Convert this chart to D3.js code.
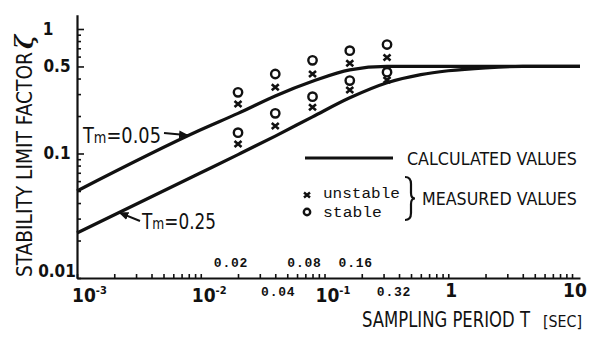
<!DOCTYPE html>
<html>
<head>
<meta charset="utf-8">
<script src="https://cdn.jsdelivr.net/npm/d3@7"></script>
<style>
  body { margin: 0; background: #fff; }
  svg { display: block; }
</style>
</head>
<body>
<svg id="chart" width="589" height="340"></svg>
<script>
// sampling periods of the measured points [sec]
const periods = [0.02, 0.04, 0.08, 0.16, 0.32];

// measured values, Tm = 0.05
const upperStable = [0.31, 0.435, 0.56, 0.67, 0.75];
const upperUnstable = [0.25, 0.34, 0.435, 0.53, 0.59];
// measured values, Tm = 0.25
const lowerStable = [0.147, 0.21, 0.286, 0.385, 0.45];
const lowerUnstable = [0.119, 0.166, 0.235, 0.324, 0.39];

// calculated curves
const curveT = [0.001, 0.01, 0.02, 0.04, 0.08, 0.16, 0.32, 0.6, 1, 2, 4, 11.6];
const upperCurve = [0.05, 0.155, 0.21, 0.29, 0.38, 0.47, 0.5, 0.5, 0.5, 0.5, 0.5, 0.5];
const lowerCurve = [0.023, 0.07, 0.098, 0.138, 0.197, 0.28, 0.37, 0.43, 0.462, 0.488, 0.5, 0.5];

// tick labels
const xPowers = [[0.001, '-3'], [0.01, '-2'], [0.1, '-1']];
const xPlain = [[1, '1'], [10, '10']];
const xSubAbove = ['0.02', '0.08', '0.16'];
const xSubBelow = ['0.04', '0.32'];
const yLabels = ['0.01', '0.1', '0.5', '1'];

const narrow = '"Liberation Sans Narrow", "DejaVu Sans Condensed", sans-serif';
const mono = '"Liberation Mono", "DejaVu Sans Mono", monospace';
const ink = '#111';

const svg = d3.select('#chart');
svg.append('rect').attr('width', 589).attr('height', 340).attr('fill', '#fff');

const x = d3.scaleLog().domain([0.001, 11.6]).range([77, 580]);
const y = d3.scaleLog().domain([0.01, 1.3]).range([278, 14.8]);

// squeeze a text horizontally so it covers `width` pixels
const fit = (sel, tx, ty, width, rot) => {
  const w = sel.node().getComputedTextLength();
  sel.attr('transform', `translate(${tx},${ty})${rot ? ' rotate(' + rot + ')' : ''} scale(${width / w},1)`);
  return sel;
};

const decades = [0.001, 0.01, 0.1, 1];
const xMinor = decades.flatMap(d => d3.range(1, 10).map(k => d * k)).concat([10]);
const yMinor = [0.01, 0.1].flatMap(d => d3.range(1, 10).map(k => +(d * k).toFixed(3))).concat([1]);

// axes
svg.append('g')
  .attr('transform', `translate(0,${y(0.01)})`)
  .call(d3.axisTop(x).tickValues(xMinor).tickSize(4).tickSizeOuter(0).tickFormat(''))
  .call(g => g.select('.domain').attr('stroke-width', 2).attr('stroke', ink))
  .call(g => g.selectAll('.tick line').attr('stroke-width', 1.6).attr('stroke', ink).attr('y2', -4).attr('y1', 1));

svg.append('g')
  .attr('transform', `translate(${x(0.001)},0)`)
  .call(d3.axisRight(y).tickValues(yMinor).tickSize(4).tickSizeOuter(0).tickFormat(''))
  .call(g => g.select('.domain').attr('stroke-width', 2.2).attr('stroke', ink))
  .call(g => g.selectAll('.tick line').attr('stroke-width', 1.6).attr('stroke', ink)
    .attr('x2', d => [0.1, 0.5, 1].includes(d) ? 7 : 4));

// y tick labels
svg.append('g').selectAll('text')
  .data(yLabels)
  .join('text')
  .attr('x', d => d === '1' ? 48 : 57)
  .attr('y', d => y(+d) + (d === '0.01' ? -1 : 6))
  .attr('text-anchor', 'middle')
  .attr('font-family', narrow)
  .attr('font-weight', 'bold')
  .attr('font-size', 17)
  .attr('fill', ink)
  .text(d => d);

// x tick labels
const xl = svg.append('g').attr('font-family', narrow).attr('font-weight', 'bold').attr('fill', ink);
xPowers.forEach(([v, p]) => {
  const t = xl.append('text')
    .attr('x', x(v) - 9 + (v === 0.001 ? 4 : 0))
    .attr('y', 302)
    .attr('font-size', 19);
  t.append('tspan').text('10');
  t.append('tspan').attr('font-size', 11).attr('dy', -8).text(p);
});
xl.selectAll('text.plain')
  .data(xPlain)
  .join('text')
  .attr('class', 'plain')
  .attr('x', d => x(d[0]) + 3)
  .attr('y', 297)
  .attr('text-anchor', 'middle')
  .attr('font-size', 19)
  .text(d => d[1]);

// the hand-lettered period labels sit a little off their ticks
const subShift = { '0.02': -7, '0.08': -8, '0.16': 6, '0.04': 3, '0.32': 7 };
const subLabel = (labels, yy) => svg.append('g').selectAll('text')
  .data(labels)
  .join('text')
  .attr('x', d => x(+d) + subShift[d])
  .attr('y', yy)
  .attr('text-anchor', 'middle')
  .attr('font-family', mono)
  .attr('font-weight', 'bold')
  .attr('font-size', 13)
  .attr('letter-spacing', 0.8)
  .attr('fill', ink)
  .text(d => d);
subLabel(xSubAbove, 267);
subLabel(xSubBelow, 296);

// calculated curves
const line = d3.line()
  .x(d => x(d[0]))
  .y(d => y(d[1]))
  .curve(d3.curveMonotoneX);

[upperCurve, lowerCurve].forEach(c => {
  svg.append('path')
    .datum(curveT.map((t, i) => [t, c[i]]))
    .attr('fill', 'none')
    .attr('stroke', ink)
    .attr('stroke-width', 3.2)
    .attr('stroke-linejoin', 'round')
    .attr('d', line);
});

// measured points
const cross = 'M-3.5,-3L3.5,3M3.5,-3L-3.5,3';
const drawStable = (vals) => svg.append('g').selectAll('circle')
  .data(periods.map((t, i) => [t, vals[i]]))
  .join('circle')
  .attr('cx', d => x(d[0]))
  .attr('cy', d => y(d[1]))
  .attr('r', 4.2)
  .attr('fill', '#fff')
  .attr('stroke', ink)
  .attr('stroke-width', 2.4);
const drawUnstable = (vals) => svg.append('g').selectAll('path')
  .data(periods.map((t, i) => [t, vals[i]]))
  .join('path')
  .attr('transform', d => `translate(${x(d[0])},${y(d[1])})`)
  .attr('d', cross)
  .attr('stroke', ink)
  .attr('stroke-width', 2.6);
drawUnstable(upperUnstable);
drawUnstable(lowerUnstable);
drawStable(upperStable);
drawStable(lowerStable);

// curve labels with arrows
svg.append('defs').append('marker')
  .attr('id', 'head')
  .attr('viewBox', '0 0 10 10')
  .attr('refX', 9).attr('refY', 5)
  .attr('markerWidth', 5).attr('markerHeight', 5)
  .attr('orient', 'auto')
  .append('path').attr('d', 'M0,1L10,5L0,9Z').attr('fill', ink);

const tmLabel = (xx, yy, val, len) => {
  const t = svg.append('text')
    .attr('font-family', narrow)
    .attr('font-size', 22)
    .attr('fill', ink);
  t.append('tspan').text('T');
  t.append('tspan').attr('font-size', 16).text('m');
  t.append('tspan').text('=' + val);
  fit(t, xx, yy, len);
};
tmLabel(83, 143, '0.05', 78);
tmLabel(142, 229, '0.25', 74);

svg.append('line')
  .attr('x1', 164).attr('y1', 133)
  .attr('x2', x(0.0079)).attr('y2', y(0.14))
  .attr('stroke', ink).attr('stroke-width', 2)
  .attr('marker-end', 'url(#head)');
svg.append('line')
  .attr('x1', 140).attr('y1', 221)
  .attr('x2', x(0.0022)).attr('y2', y(0.0335))
  .attr('stroke', ink).attr('stroke-width', 2)
  .attr('marker-end', 'url(#head)');

// axis titles
fit(svg.append('text')
  .attr('font-family', narrow)
  .attr('font-size', 22)
  .attr('fill', ink)
  .text('STABILITY LIMIT FACTOR'), 32, 277, 225, -90);
svg.append('text')
  .attr('transform', 'translate(33,49) rotate(-90)')
  .attr('font-family', '"DejaVu Serif", serif')
  .attr('font-style', 'italic')
  .attr('font-weight', 'bold')
  .attr('font-size', 24)
  .attr('fill', ink)
  .text('ζ');

fit(svg.append('text')
  .attr('font-family', narrow)
  .attr('font-size', 21)
  .attr('fill', ink)
  .text('SAMPLING PERIOD T'), 362, 327, 168);
fit(svg.append('text')
  .attr('font-family', narrow)
  .attr('font-size', 15)
  .attr('fill', ink)
  .text('[SEC]'), 543, 327, 39);

// legend
const lg = svg.append('g');
lg.append('line')
  .attr('x1', 305).attr('x2', 393).attr('y1', 158).attr('y2', 158)
  .attr('stroke', ink).attr('stroke-width', 3.2);
fit(lg.append('text')
  .attr('font-family', narrow).attr('font-size', 17).attr('fill', ink)
  .text('CALCULATED VALUES'), 407, 165, 170);
lg.append('path')
  .attr('transform', 'translate(307,195)')
  .attr('d', 'M-3,-2.5L3,2.5M3,-2.5L-3,2.5')
  .attr('stroke', ink).attr('stroke-width', 2.4);
lg.append('circle')
  .attr('cx', 307).attr('cy', 212).attr('r', 3.2)
  .attr('fill', '#fff').attr('stroke', ink).attr('stroke-width', 2.4);
fit(lg.append('text')
  .attr('font-family', mono).attr('font-size', 15).attr('fill', ink)
  .text('unstable'), 323, 198, 77);
fit(lg.append('text')
  .attr('font-family', mono).attr('font-size', 15).attr('fill', ink)
  .text('stable'), 323, 217, 59);
lg.append('path')
  .attr('d', 'M405,177Q411,177 411,184L411,193Q411,198.5 415,198.5Q411,198.5 411,204L411,213Q411,220 405,220')
  .attr('fill', 'none').attr('stroke', ink).attr('stroke-width', 2.2);
fit(lg.append('text')
  .attr('font-family', narrow).attr('font-size', 17).attr('fill', ink)
  .text('MEASURED VALUES'), 422, 205, 155);
</script>
</body>
</html>
